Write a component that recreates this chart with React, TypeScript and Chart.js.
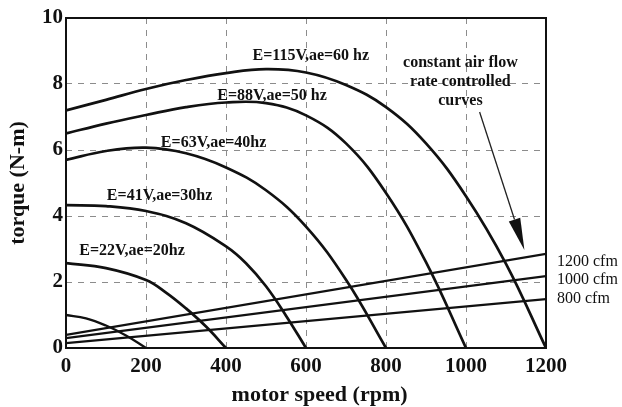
import { useEffect, useRef } from "react";
import { Chart, registerables } from "chart.js";

Chart.register(...registerables);

// axes
const speedMin = 0;
const speedMax = 1200;
const speedStep = 200;
const torqueMin = 0;
const torqueMax = 10;
const torqueStep = 2;

// torque-speed curves (rpm, N-m)
const rpm10hz = [0, 50, 100, 150, 200];
const torque10hz = [1.0, 0.9, 0.68, 0.38, 0];
const rpm20hz = [0, 100, 200, 250, 300, 350, 400];
const torque20hz = [2.57, 2.42, 2.06, 1.68, 1.2, 0.65, 0];
const rpm30hz = [0, 100, 200, 300, 400, 450, 500, 550, 600];
const torque30hz = [4.33, 4.3, 4.15, 3.78, 3.08, 2.57, 1.87, 0.98, 0];
const rpm40hz = [0, 100, 200, 300, 400, 500, 600, 700, 800];
const torque40hz = [5.7, 5.97, 6.07, 5.9, 5.47, 4.78, 3.68, 2.07, 0];
const rpm50hz = [0, 100, 200, 300, 400, 500, 600, 700, 800, 900, 1000];
const torque50hz = [6.5, 6.8, 7.06, 7.3, 7.44, 7.42, 7.05, 6.2, 4.7, 2.6, 0];
const rpm60hz = [0, 100, 200, 300, 400, 500, 600, 700, 800, 900, 1000, 1100, 1200];
const torque60hz = [7.2, 7.52, 7.85, 8.12, 8.33, 8.45, 8.35, 7.97, 7.3, 6.2, 4.6, 2.55, 0];

// constant air flow lines
const cfmRpm = [0, 1200];
const torque1200cfm = [0.4, 2.85];
const torque1000cfm = [0.3, 2.18];
const torque800cfm = [0.15, 1.48];

// texts
const curveLabels = ["E=115V,ae=60 hz", "E=88V,ae=50 hz", "E=63V,ae=40hz", "E=41V,ae=30hz", "E=22V,ae=20hz"];
const cfmLabels = ["1200 cfm", "1000 cfm", "800 cfm"];
const noteLines = ["constant air flow", "rate controlled", "curves"];
const xTitle = "motor speed (rpm)";
const yTitle = "torque (N-m)";

const SERIF = "'Liberation Serif', 'DejaVu Serif', serif";

const pts = (xs: number[], ys: number[]) => xs.map((x, i) => ({ x, y: ys[i] }));

const annotationPlugin = {
  id: "annotations",
  afterDraw(chart: any) {
    const { ctx, chartArea } = chart;
    const xs = chart.scales.x;
    const ys = chart.scales.y;
    const px = (v: number) => xs.getPixelForValue(v);
    const py = (v: number) => ys.getPixelForValue(v);
    ctx.save();

    // frame
    ctx.strokeStyle = "#111";
    ctx.lineWidth = 2;
    ctx.setLineDash([]);
    ctx.strokeRect(chartArea.left, chartArea.top, chartArea.right - chartArea.left, chartArea.bottom - chartArea.top);

    ctx.fillStyle = "#111";
    ctx.textBaseline = "middle";

    // x axis title (centred under the plot as in the source figure)
    ctx.font = `bold 22px ${SERIF}`;
    ctx.textAlign = "center";
    ctx.fillText(xTitle, px(634), chartArea.bottom + 47);

    // curve labels (anchor: rpm, torque at text centre)
    const labelSpots = [
      [612, 8.85],
      [515, 7.64],
      [369, 6.21],
      [234, 4.6],
      [165, 2.94],
    ];
    ctx.font = `bold 16px ${SERIF}`;
    curveLabels.forEach((t, i) => {
      ctx.fillText(t, px(labelSpots[i][0]), py(labelSpots[i][1]));
    });

    // note
    const noteSpots = [8.64, 8.06, 7.48];
    noteLines.forEach((t, i) => {
      ctx.fillText(t, px(986), py(noteSpots[i]));
    });

    // arrow
    const x0 = px(1034), y0 = py(7.15);
    const x1 = px(1146), y1 = py(2.97);
    const ang = Math.atan2(y1 - y0, x1 - x0);
    const headLen = 32, headHalf = 6;
    const bx = x1 - headLen * Math.cos(ang);
    const by = y1 - headLen * Math.sin(ang);
    ctx.strokeStyle = "#222";
    ctx.lineWidth = 1.3;
    ctx.beginPath();
    ctx.moveTo(x0, y0);
    ctx.lineTo(bx, by);
    ctx.stroke();
    ctx.beginPath();
    ctx.moveTo(x1, y1);
    ctx.lineTo(bx + headHalf * Math.sin(ang), by - headHalf * Math.cos(ang));
    ctx.lineTo(bx - headHalf * Math.sin(ang), by + headHalf * Math.cos(ang));
    ctx.closePath();
    ctx.fill();

    // cfm labels
    const cfmSpots = [2.6, 2.06, 1.48];
    ctx.font = `16px ${SERIF}`;
    ctx.textAlign = "left";
    cfmLabels.forEach((t, i) => {
      ctx.fillText(t, chartArea.right + 11, py(cfmSpots[i]));
    });

    ctx.restore();
  },
};

export default function App() {
  const ref = useRef<HTMLCanvasElement | null>(null);

  useEffect(() => {
    if (!ref.current) return;
    const curve = (xs: number[], ys: number[], w = 2.7) => ({
      data: pts(xs, ys),
      borderColor: "#111",
      borderWidth: w,
      pointRadius: 0,
      fill: false,
      tension: 0.4,
    });
    const straight = (ys: number[]) => ({
      data: pts(cfmRpm, ys),
      borderColor: "#111",
      borderWidth: 2.2,
      pointRadius: 0,
      fill: false,
      tension: 0,
    });
    const chart = new Chart(ref.current, {
      type: "line",
      data: {
        datasets: [
          curve(rpm10hz, torque10hz, 2.3),
          curve(rpm20hz, torque20hz),
          curve(rpm30hz, torque30hz),
          curve(rpm40hz, torque40hz),
          curve(rpm50hz, torque50hz),
          curve(rpm60hz, torque60hz),
          straight(torque1200cfm),
          straight(torque1000cfm),
          straight(torque800cfm),
        ] as any,
      },
      options: {
        animation: false,
        responsive: true,
        maintainAspectRatio: false,
        layout: { padding: { left: 0, right: 76, top: 18, bottom: 0 } },
        plugins: { legend: { display: false }, tooltip: { enabled: false } },
        scales: {
          x: {
            type: "linear",
            min: speedMin,
            max: speedMax,
            afterFit: (s: any) => {
              s.height = 59;
            },
            ticks: {
              stepSize: speedStep,
              color: "#111",
              padding: 6,
              callback: (v: any) => String(v),
              font: { family: SERIF, size: 21, weight: "bold" },
            },
            grid: { color: "#8c8c8c", lineWidth: 1, drawTicks: false },
            border: { display: false, dash: [6, 6] },
            title: { display: false },
          },
          y: {
            type: "linear",
            min: torqueMin,
            max: torqueMax,
            afterFit: (s: any) => {
              s.width = 66;
            },
            ticks: {
              stepSize: torqueStep,
              color: "#111",
              padding: 3,
              callback: (v: any) => String(v),
              font: { family: SERIF, size: 21, weight: "bold" },
            },
            grid: { color: "#8c8c8c", lineWidth: 1, drawTicks: false },
            border: { display: false, dash: [6, 6] },
            title: {
              display: true,
              text: yTitle,
              color: "#111",
              font: { family: SERIF, size: 22, weight: "bold" },
              padding: { top: 5, bottom: 0 },
            },
          },
        },
      } as any,
      plugins: [annotationPlugin],
    });
    return () => chart.destroy();
  }, []);

  return (
    <div style={{ position: "fixed", left: 0, top: 0, width: 622, height: 407, background: "#fff" }}>
      <canvas ref={ref} />
    </div>
  );
}
